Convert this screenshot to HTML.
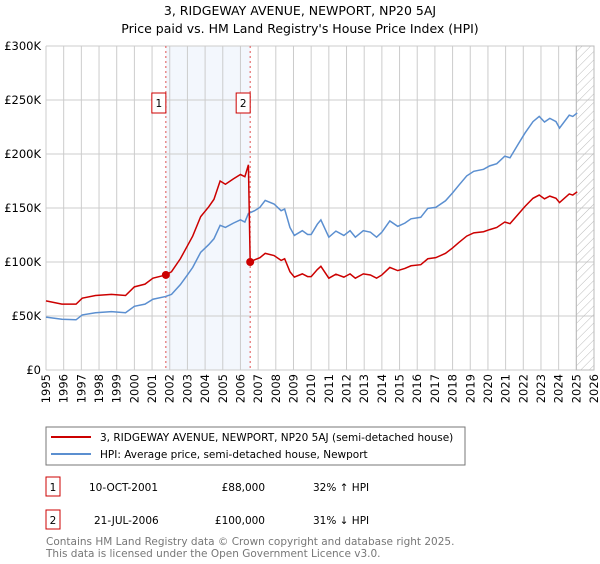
<!DOCTYPE html>
<html><head><meta charset="utf-8"><style>
body{margin:0;background:#fff;font-family:"DejaVu Sans","Liberation Sans",sans-serif;}
svg text{font-family:"DejaVu Sans","Liberation Sans",sans-serif;}
</style></head><body>
<svg id="c" width="600" height="560" xmlns="http://www.w3.org/2000/svg">
<defs><pattern id="hatch" width="6" height="6" patternUnits="userSpaceOnUse" patternTransform="rotate(45)"><line x1="0" y1="0" x2="0" y2="6" stroke="#bbb" stroke-width="1"/></pattern></defs>
<text x="300" y="15" text-anchor="middle" font-size="12.5">3, RIDGEWAY AVENUE, NEWPORT, NP20 5AJ</text>
<text x="300" y="33" text-anchor="middle" font-size="12.5">Price paid vs. HM Land Registry's House Price Index (HPI)</text>
<g id="plot"></g>
<rect x="46" y="427" width="419" height="38" fill="#fff" stroke="#777"/>
<line x1="51" y1="437" x2="91" y2="437" stroke="#cc0000" stroke-width="2"/>
<text x="100" y="441" font-size="10.5">3, RIDGEWAY AVENUE, NEWPORT, NP20 5AJ (semi-detached house)</text>
<line x1="51" y1="454" x2="91" y2="454" stroke="#5b8fd0" stroke-width="2"/>
<text x="100" y="458" font-size="10.5">HPI: Average price, semi-detached house, Newport</text>
<g>
<rect x="46" y="477" width="14" height="19" fill="none" stroke="#cc0000"/>
<text x="53" y="491" text-anchor="middle" font-size="10.5">1</text>
<text x="89" y="491" font-size="10.5">10-OCT-2001</text>
<text x="265" y="491" text-anchor="end" font-size="10.5">£88,000</text>
<text x="313" y="491" font-size="10.5">32% ↑ HPI</text></g>
<g>
<rect x="46" y="510" width="14" height="19" fill="none" stroke="#cc0000"/>
<text x="53" y="524" text-anchor="middle" font-size="10.5">2</text>
<text x="94" y="524" font-size="10.5">21-JUL-2006</text>
<text x="265" y="524" text-anchor="end" font-size="10.5">£100,000</text>
<text x="313" y="524" font-size="10.5">31% ↓ HPI</text></g>
<text x="46" y="545" font-size="10.5" fill="#777">Contains HM Land Registry data © Crown copyright and database right 2025.</text>
<text x="46" y="557" font-size="10.5" fill="#777">This data is licensed under the Open Government Licence v3.0.</text>
</svg>
<script>
const hpiYears=[1995.0,1995.9,1996.7,1997.05,1997.8,1998.7,1999.5,2000.0,2000.6,2001.05,2001.75,2002.1,2002.6,2003.0,2003.3,2003.75,2004.2,2004.5,2004.85,2005.15,2005.6,2006.0,2006.25,2006.45,2006.8,2007.1,2007.4,2007.9,2008.3,2008.5,2008.8,2009.05,2009.5,2009.8,2010.0,2010.35,2010.55,2011.0,2011.4,2011.85,2012.2,2012.5,2012.95,2013.35,2013.7,2014.0,2014.45,2014.9,2015.3,2015.65,2016.2,2016.6,2017.05,2017.6,2018.0,2018.35,2018.8,2019.2,2019.75,2020.1,2020.5,2020.95,2021.25,2021.7,2022.1,2022.55,2022.9,2023.2,2023.5,2023.85,2024.05,2024.6,2024.8,2025.05];
const hpiValues=[49,47,46.5,51,53,54,53,59,61,65.5,68,70,79,88,95,109,116,121.5,134,132,136,139,137,145,147.5,150.6,157,153.7,147.5,149,132,124.6,129,125.5,125.5,135,139,123,128.6,124.6,129,123,129,127.6,123,127.6,138,133,136,140,141.4,149.7,150.6,156.7,164,171,179.7,184,185.8,189,191,198,196.5,208.8,219.5,230,234.8,229.6,233,230,224,236,234.8,238];
const redYears=[1995.0,1995.9,1996.7,1997.05,1997.8,1998.7,1999.5,2000.0,2000.6,2001.05,2001.78,2002.1,2002.6,2003.0,2003.3,2003.75,2004.2,2004.5,2004.85,2005.15,2005.6,2006.0,2006.25,2006.45,2006.55,2006.8,2007.1,2007.4,2007.9,2008.3,2008.5,2008.8,2009.05,2009.5,2009.8,2010.0,2010.35,2010.55,2011.0,2011.4,2011.85,2012.2,2012.5,2012.95,2013.35,2013.7,2014.0,2014.45,2014.9,2015.3,2015.65,2016.2,2016.6,2017.05,2017.6,2018.0,2018.35,2018.8,2019.2,2019.75,2020.1,2020.5,2020.95,2021.25,2021.7,2022.1,2022.55,2022.9,2023.2,2023.5,2023.85,2024.05,2024.6,2024.8,2025.05];
const redValues=[64,61,61,66.5,69,70,69,77,79.5,85,88,91,103,115,124,142,151,158,175,172,177,181,179,190,100,102,104,108,106,101.5,103,91,86,89,86.5,86.5,93,96,85,88.7,86,89,85,89,88,85,88,95,92,94,96.5,97.5,103,104,108,113,118,124,127,128,130,132,137,135.5,144,151.5,159,162,158.5,161,159,155,163,162,165];
const saleYears=[2001.78,2006.55];
const saleValues=[88,100];
const yTicks=[0,50,100,150,200,250,300];
const yTickLabels=["£0","£50K","£100K","£150K","£200K","£250K","£300K"];
const xTicks=[1995,1996,1997,1998,1999,2000,2001,2002,2003,2004,2005,2006,2007,2008,2009,2010,2011,2012,2013,2014,2015,2016,2017,2018,2019,2020,2021,2022,2023,2024,2025,2026];
const X0=46,X1=594,Y0=370,Y1=46;
const xs=y=>X0+(y-1995)/(2026-1995)*(X1-X0);
const ys=v=>Y0-v/300*(Y0-Y1);
const NS="http://www.w3.org/2000/svg";
const g=document.getElementById('plot');
function mk(t,a){const e=document.createElementNS(NS,t);for(const k in a)e.setAttribute(k,a[k]);g.appendChild(e);return e;}
let e;
e=mk('rect',{x:xs(saleYears[0]),y:Y1,width:xs(saleYears[1])-xs(saleYears[0]),height:Y0-Y1,fill:'#eef3fc',opacity:0.7});


xTicks.forEach(t=>{e=mk('line',{x1:xs(t),x2:xs(t),y1:Y1,y2:Y0,stroke:'#ccc','stroke-width':1});


e=mk('text',{x:0,y:0,transform:`translate(${xs(t)+4},374) rotate(-90)`,'text-anchor':'end','font-size':'11.5'});e.textContent=t;

});
yTicks.forEach((t,i)=>{e=mk('line',{x1:X0,x2:X1,y1:ys(t),y2:ys(t),stroke:'#ccc','stroke-width':1});


e=mk('text',{x:X0-5,y:ys(t)+4,'text-anchor':'end','font-size':'11.5'});e.textContent=yTickLabels[i];

});
e=mk('rect',{x:xs(2025),y:Y1,width:X1-xs(2025),height:Y0-Y1,fill:'url(#hatch)',stroke:'#bbb'});


saleYears.forEach((s,i)=>{e=mk('line',{x1:xs(s),x2:xs(s),y1:Y1,y2:Y0,stroke:'#e05050','stroke-width':1,'stroke-dasharray':'2,3'});


e=mk('rect',{x:xs(s)-14+(i?0:0)-0,y:ys(250)-7,width:14,height:20,fill:'#fff',stroke:'#cc0000'});


e=mk('text',{x:xs(s)-7,y:ys(250)+7,'text-anchor':'middle','font-size':'10.5'});e.textContent=String(i+1);

});
e=mk('polyline',{points:hpiYears.map((y,i)=>xs(y)+','+ys(hpiValues[i])).join(' '),fill:'none',stroke:'#5b8fd0','stroke-width':1.5});


e=mk('polyline',{points:redYears.map((y,i)=>xs(y)+','+ys(redValues[i])).join(' '),fill:'none',stroke:'#cc0000','stroke-width':1.5});


saleYears.forEach((s,i)=>{e=mk('circle',{cx:xs(s),cy:ys(saleValues[i]),r:4,fill:'#cc0000'});

});
</script>
</body></html>
